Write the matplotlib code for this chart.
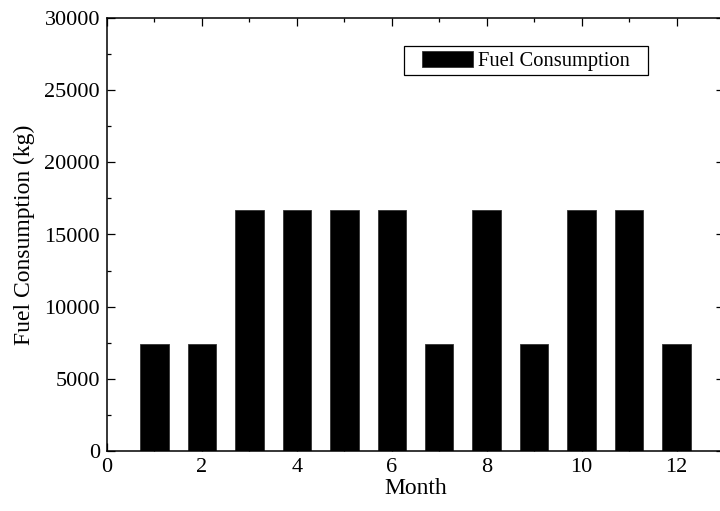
import matplotlib
matplotlib.use("Agg")
import matplotlib.pyplot as plt
from matplotlib.ticker import MultipleLocator
from matplotlib.patches import Rectangle

months = [1, 2, 3, 4, 5, 6, 7, 8, 9, 10, 11, 12]
fuel_kg = [7370, 7370, 16700, 16700, 16700, 16700, 7370, 16700, 7370, 16700, 16700, 7370]
series_name = "Fuel Consumption"
x_label = "Month"
y_label = "Fuel Consumption (kg)"

plt.rcParams["font.family"] = ["Liberation Serif", "DejaVu Serif"]

fig = plt.figure(figsize=(7.2, 5.11), dpi=100)
ax = fig.add_axes([107 / 720, 1 - 450.7 / 511, (724 - 107) / 720, (450.7 - 18.3) / 511])

ax.bar(months, fuel_kg, width=0.6, color="black", edgecolor="#333333",
       linewidth=0.6, label=series_name, zorder=1)

ax.set_xlim(0, 13)
ax.set_ylim(0, 30000)
ax.xaxis.set_major_locator(MultipleLocator(2))
ax.xaxis.set_minor_locator(MultipleLocator(1))
ax.yaxis.set_major_locator(MultipleLocator(5000))
ax.yaxis.set_minor_locator(MultipleLocator(2500))

ax.tick_params(which="both", direction="in", top=True, right=True,
               width=0.9, labelsize=16, pad=5)
ax.tick_params(which="major", length=5.5)
ax.tick_params(which="minor", length=3)
for sp in ax.spines.values():
    sp.set_linewidth(1.1)

ax.set_xlabel(x_label, fontsize=17, labelpad=1)
ax.set_ylabel(y_label, fontsize=17, labelpad=7)

# legend contents without a frame; the box is drawn around them afterwards
side_pad = 13.5  # extra horizontal room inside the box, pixels
leg = ax.legend(loc="upper right",
                bbox_to_anchor=((648 - side_pad) / 720, 1 - 46 / 511),
                bbox_transform=fig.transFigure, borderaxespad=0,
                fontsize=14.8, frameon=False, borderpad=0.22,
                handlelength=2.5, handleheight=0.85, handletextpad=0.25)

fig.canvas.draw()
bb = leg.get_window_extent()
box = Rectangle((bb.x0 - side_pad, bb.y0), bb.width + 2 * side_pad, bb.height,
                transform=None, facecolor="white", edgecolor="black",
                linewidth=0.9, clip_on=False, zorder=leg.get_zorder() - 0.5)
ax.add_artist(box)

fig.savefig("out.png", dpi=100)
